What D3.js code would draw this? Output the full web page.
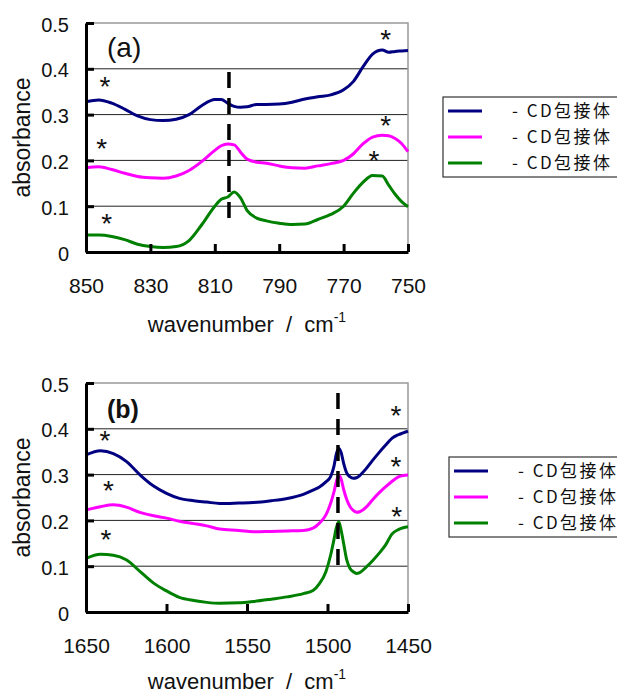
<!DOCTYPE html>
<html>
<head>
<meta charset="utf-8">
<script src="https://cdn.jsdelivr.net/npm/d3@7"></script>
<style>
body{margin:0;background:#fff;}
svg text{font-family:"Liberation Sans",Arial,sans-serif;fill:#111;}
.legend text{font-family:"Noto Sans CJK JP",sans-serif;}
</style>
</head>
<body>
<div id="canvas"></div>
<script>
// panel (a) : 850 - 750 cm-1
var wnA = [850,846,842,838,834,830,826,822,818,814,810,808,806,804,802,800,797,794,790,786,782,778,774,770,767,764,761,758,756,754,752,750];
var blueA = [.328,.332,.325,.312,.297,.289,.287,.290,.300,.320,.333,.333,.325,.318,.316,.317,.322,.322,.323,.327,.334,.339,.343,.354,.372,.404,.432,.441,.436,.438,.439,.440];
var pinkA = [.184,.186,.180,.172,.165,.162,.161,.166,.178,.198,.222,.232,.236,.234,.218,.203,.196,.194,.188,.184,.183,.188,.193,.200,.214,.236,.251,.255,.254,.248,.237,.219];
var greenA = [.037,.037,.034,.027,.017,.012,.010,.012,.025,.060,.100,.115,.120,.131,.118,.091,.074,.068,.063,.060,.061,.071,.082,.100,.128,.152,.167,.166,.146,.126,.110,.099];
var xTicksA = [850,830,810,790,770,750];
var starsA = [[844.1,0.376],[845.1,0.241],[843.6,0.077],[756.9,0.478],[756.9,0.292],[760.6,0.214]];
var dashA = [805.6,0.057,0.393]; // wavenumber, from, to

// panel (b) : 1650 - 1450 cm-1
var wnB = [1650,1641,1633,1625,1616,1608,1600,1592,1583,1575,1567,1555,1546,1535,1525,1515,1509,1505,1501,1498,1496,1494.5,1493,1491.5,1490,1488,1486,1484,1482,1480,1476,1472,1468,1464,1460,1456,1453,1450];
var blueB = [.343,.352,.346,.329,.298,.275,.259,.248,.243,.240,.237,.238,.239,.243,.248,.257,.266,.273,.284,.296,.318,.345,.357,.348,.325,.303,.295,.292,.293,.298,.313,.331,.348,.364,.379,.387,.391,.395];
var pinkB = [.223,.230,.234,.229,.217,.210,.205,.198,.193,.188,.181,.178,.175,.176,.177,.178,.183,.194,.212,.238,.262,.285,.298,.290,.268,.245,.230,.222,.218,.219,.229,.245,.260,.273,.285,.295,.298,.299];
var greenB = [.117,.126,.124,.114,.087,.063,.046,.032,.025,.021,.019,.020,.023,.028,.033,.040,.047,.062,.088,.125,.158,.184,.197,.178,.150,.113,.095,.088,.084,.086,.098,.112,.128,.146,.170,.180,.184,.186];
var xTicksB = [1650,1600,1550,1500,1450];
var starsB = [[1638.2,0.390],[1636.1,0.281],[1637.6,0.172],[1457.5,0.443],[1457.5,0.333],[1457,0.224]];
var dashB = [1493.5,0.081,0.478];

var yTicks = [0,0.1,0.2,0.3,0.4,0.5];
var gridTicks = [0.1,0.2,0.3,0.4];
var legendLabels = ['- CD包接体','- CD包接体','- CD包接体'];
var colors = ['#000080','#ff00ff','#008000'];

var svg = d3.select('#canvas').append('svg')
    .attr('width',617)
    .attr('height',693);

function drawPanel(p){
    var x = d3.scaleLinear().domain(p.xDomain).range([86,408]);
    var y = d3.scaleLinear().domain([0,0.5]).range([p.bottom,p.bottom-229]);
    var g = svg.append('g');

    // gridlines
    g.selectAll('.grid').data(gridTicks).enter().append('line')
        .attr('x1',86).attr('x2',408)
        .attr('y1',function(d){return y(d);}).attr('y2',function(d){return y(d);})
        .attr('stroke','#222').attr('stroke-width',1);
    // grey top / right frame
    g.append('path')
        .attr('d','M86,'+y(0.5)+'H408V'+y(0))
        .attr('fill','none').attr('stroke','#999').attr('stroke-width',1.5);

    var line = d3.line()
        .x(function(d,i){return x(p.wn[i]);})
        .y(function(d){return y(d);})
        .curve(d3.curveMonotoneX);
    g.selectAll('.curve').data(p.series).enter().append('path')
        .attr('d',line)
        .attr('fill','none')
        .attr('stroke',function(d,i){return colors[i];})
        .attr('stroke-width',3);

    // dashed marker line
    g.append('line')
        .attr('x1',x(p.dash[0])).attr('x2',x(p.dash[0]))
        .attr('y1',y(p.dash[2])).attr('y2',y(p.dash[1]))
        .attr('stroke','#000').attr('stroke-width',3.5)
        .attr('stroke-dasharray','16,10');

    // axes
    var axisX = d3.axisBottom(x).tickValues(p.xTicks)
        .tickSizeInner(-8).tickSizeOuter(0).tickPadding(26)
        .tickFormat(d3.format('d'));
    g.append('g').attr('class','axis axis-x')
        .attr('transform','translate(0,'+y(0)+')')
        .call(axisX);
    var axisY = d3.axisLeft(y).tickValues(yTicks)
        .tickSizeInner(-8).tickSizeOuter(0).tickPadding(17)
        .tickFormat(function(d){return d===0?'0':d.toFixed(1);});
    g.append('g').attr('class','axis axis-y')
        .attr('transform','translate(86,0)')
        .call(axisY);
    g.selectAll('.axis').attr('font-family',null).attr('font-size',null);
    g.selectAll('.axis .domain, .axis .tick line').attr('stroke','#000').attr('stroke-width',3);
    g.selectAll('.axis text').attr('fill','#111');
    g.selectAll('.axis-x text').style('font-size','21px');
    g.selectAll('.axis-y text').style('font-size','20px').attr('dy','0.4em');

    // asterisks
    g.selectAll('.star').data(p.stars).enter().append('text')
        .attr('x',function(d){return x(d[0]);})
        .attr('y',function(d){return y(d[1]);})
        .attr('dy','0.58em')
        .attr('text-anchor','middle')
        .style('font-size','28px')
        .text('*');

    // panel tag
    g.append('text')
        .attr('x',107).attr('y',p.tagY)
        .style('font-size',p.tagSize+'px')
        .style('font-weight',p.tagBold?'bold':'normal')
        .text(p.tag);

    // axis titles
    g.append('text')
        .attr('transform','translate(29.5,'+(p.bottom-114.5)+') rotate(-90)')
        .attr('text-anchor','middle')
        .style('font-size','23px')
        .text('absorbance');
    var t = g.append('text')
        .attr('x',247).attr('y',p.titleY)
        .attr('text-anchor','middle')
        .style('font-size','22px')
        .style('white-space','pre');
    t.append('tspan').text('wavenumber  /  cm');
    t.append('tspan').attr('dy',-10).style('font-size','14px').text('-1');

    // legend
    var lg = svg.append('g').attr('class','legend')
        .attr('transform','translate('+p.legend[0]+','+p.legend[1]+')');
    lg.append('rect').attr('x',0).attr('y',0).attr('width',200).attr('height',80)
        .attr('fill','#fff').attr('stroke','#333').attr('stroke-width',1.2);
    var items = lg.selectAll('.item').data(legendLabels).enter().append('g')
        .attr('transform',function(d,i){return 'translate(0,'+(14+i*26)+')';});
    items.append('line').attr('x1',5).attr('x2',39)
        .attr('stroke',function(d,i){return colors[i];}).attr('stroke-width',3);
    items.append('text').attr('x',69).attr('dy','0.35em')
        .attr('textLength',98).attr('lengthAdjust','spacing')
        .style('font-size','17px')
        .text(function(d){return d;});
}

drawPanel({xDomain:[850,750], bottom:252, wn:wnA, series:[blueA,pinkA,greenA],
    xTicks:xTicksA, stars:starsA, dash:dashA, tag:'(a)', tagBold:false, tagSize:28, tagY:57,
    titleY:332, legend:[443,97]});
drawPanel({xDomain:[1650,1450], bottom:612, wn:wnB, series:[blueB,pinkB,greenB],
    xTicks:xTicksB, stars:starsB, dash:dashB, tag:'(b)', tagBold:true, tagSize:25, tagY:418,
    titleY:689, legend:[449,457]});
</script>
</body>
</html>
